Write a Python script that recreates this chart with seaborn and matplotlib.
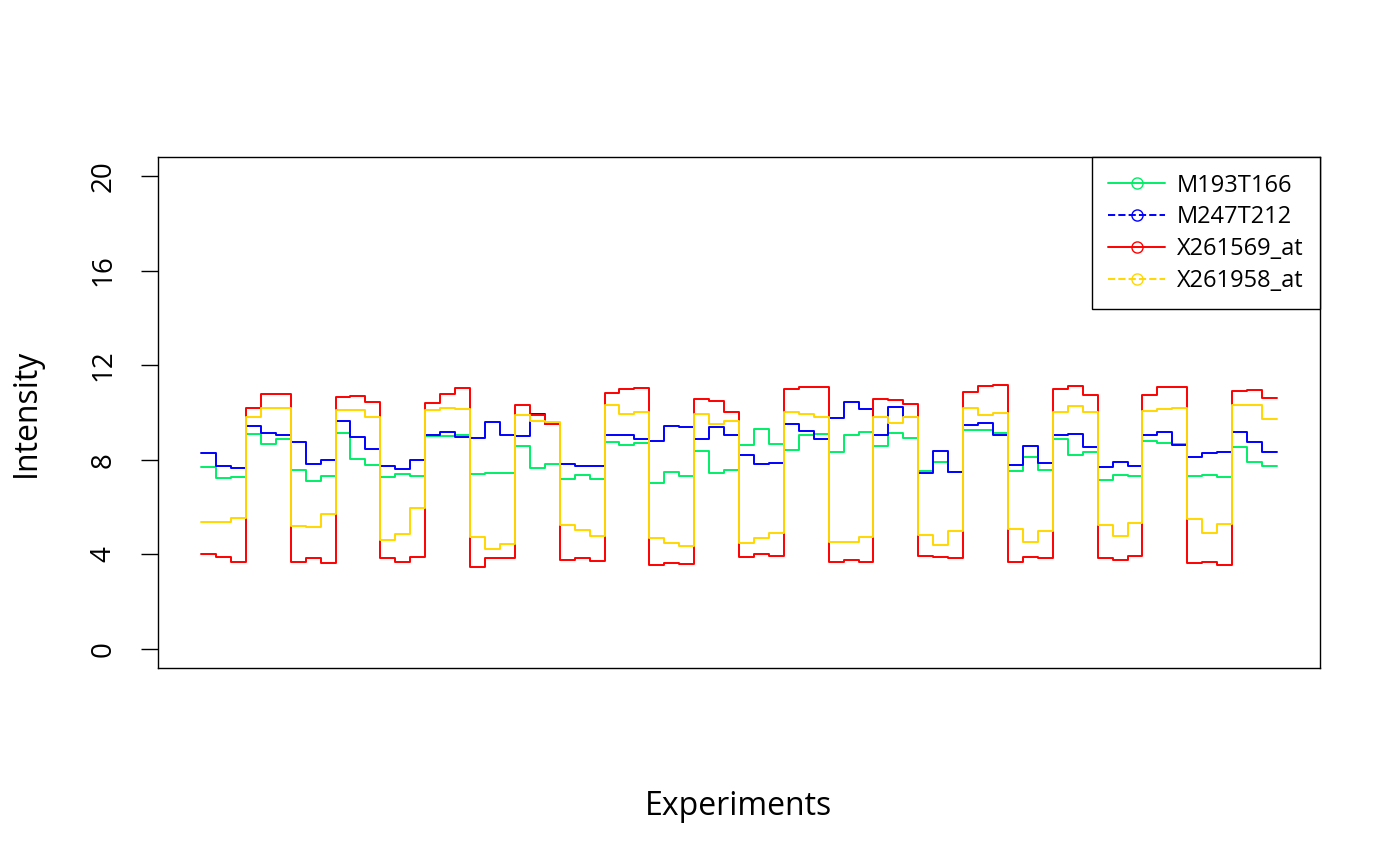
import numpy as np
import pandas as pd
import matplotlib
matplotlib.use("Agg")
import matplotlib.pyplot as plt
import seaborn as sns
from matplotlib.lines import Line2D

# probe names as in the legend
probes = ["M193T166", "M247T212", "X261569_at", "X261958_at"]
colors = ["#00EE66", "#0000FF", "#FF0000", "#FFD700"]
legend_styles = ["-", "--", "-", "--"]

# intensity per experiment (73 experiments)
m193 = [7.71, 7.24, 7.27, 9.10, 8.68, 8.89, 7.55, 7.10, 7.30,
        9.13, 8.02, 7.78, 7.26, 7.38, 7.30, 9.00, 9.01, 9.03,
        7.38, 7.45, 7.45, 8.58, 7.65, 7.82, 7.20, 7.36, 7.19,
        8.76, 8.61, 8.72, 7.03, 7.50, 7.31, 8.38, 7.43, 7.58,
        8.61, 9.32, 8.65, 8.41, 9.07, 9.11, 8.35, 9.06, 9.16,
        8.59, 9.13, 8.92, 7.54, 7.92, 7.50, 9.25, 9.28, 9.13,
        7.54, 8.12, 7.57, 8.87, 8.19, 8.35, 7.13, 7.36, 7.30,
        8.78, 8.69, 8.65, 7.31, 7.37, 7.26, 8.55, 7.89, 7.73, 7.73]

m247 = [8.28, 7.73, 7.64, 9.45, 9.13, 9.03, 8.75, 7.83, 7.99,
        9.63, 8.96, 8.45, 7.72, 7.61, 8.00, 9.04, 9.16, 8.97,
        8.93, 9.58, 9.03, 9.02, 9.92, 9.52, 7.82, 7.73, 7.75,
        9.03, 9.07, 8.86, 8.80, 9.42, 9.40, 8.87, 9.38, 9.07,
        8.21, 7.83, 7.85, 9.51, 9.20, 8.90, 9.76, 10.44, 10.14,
        9.07, 10.24, 9.80, 7.44, 8.37, 7.50, 9.48, 9.54, 9.07,
        7.76, 8.59, 7.88, 9.07, 9.11, 8.54, 7.71, 7.90, 7.73,
        9.07, 9.17, 8.62, 8.12, 8.28, 8.33, 9.16, 8.75, 8.33, 8.33]

x261569 = [4.02, 3.90, 3.66, 10.21, 10.80, 10.79, 3.69, 3.84, 3.63,
           10.65, 10.69, 10.44, 3.87, 3.66, 3.91, 10.39, 10.77, 11.04,
           3.47, 3.85, 3.85, 10.31, 9.89, 9.51, 3.78, 3.85, 3.71,
           10.82, 11.00, 11.03, 3.57, 3.62, 3.60, 10.55, 10.48, 10.01,
           3.90, 4.00, 3.94, 11.00, 11.07, 11.06, 3.66, 3.77, 3.68,
           10.58, 10.52, 10.34, 3.95, 3.88, 3.83, 10.86, 11.11, 11.15,
           3.66, 3.88, 3.87, 11.01, 11.14, 10.72, 3.85, 3.77, 3.94,
           10.72, 11.08, 11.08, 3.62, 3.68, 3.56, 10.90, 10.96, 10.63, 10.63]

x261958 = [5.36, 5.38, 5.54, 9.82, 10.21, 10.18, 5.19, 5.15, 5.70,
           10.11, 10.11, 9.80, 4.63, 4.85, 5.96, 10.11, 10.18, 10.14,
           4.73, 4.25, 4.43, 9.90, 9.63, 9.58, 5.23, 5.05, 4.80,
           10.30, 9.92, 10.01, 4.71, 4.50, 4.36, 9.94, 9.51, 9.62,
           4.49, 4.68, 4.91, 10.04, 9.92, 9.82, 4.54, 4.54, 4.74,
           9.82, 9.55, 9.80, 4.81, 4.40, 4.99, 10.17, 9.89, 9.97,
           5.09, 4.53, 5.01, 10.03, 10.27, 10.01, 5.26, 4.77, 5.33,
           10.08, 10.13, 10.17, 5.50, 4.92, 5.27, 10.30, 10.30, 9.73, 9.73]

y_ticks = [0, 4, 8, 12, 16, 20]

series = [m193, m247, x261569, x261958]
experiments = np.arange(1, len(m193) + 1)

df = pd.concat([pd.DataFrame({"Experiment": experiments, "Intensity": vals, "Probe": name})
                for name, vals in zip(probes, series)], ignore_index=True)

sns.set_style("white")
plt.rcParams["font.family"] = ["Open Sans", "DejaVu Sans"]
plt.rcParams["text.color"] = "black"
plt.rcParams["axes.labelcolor"] = "black"
plt.rcParams["ytick.color"] = "black"

fig = plt.figure(figsize=(14, 8.65), dpi=100)
ax = fig.add_axes([158 / 1400, 1 - 668 / 865, (1320 - 158) / 1400, (668 - 157) / 865])

for name, col in zip(probes, colors):
    sub = df[df["Probe"] == name]
    sns.lineplot(data=sub, x="Experiment", y="Intensity", color=col, linewidth=1.4,
                 drawstyle="steps-post", ax=ax, legend=False, errorbar=None)

n = len(experiments)
pad = (n - 1) * 0.04
ax.set_xlim(1 - pad, n + pad)
ax.set_ylim(-0.8, 20.8)
ax.set_xticks([])
ax.set_yticks(y_ticks)
ax.set_yticklabels([str(t) for t in y_ticks], rotation=90, va="center")
ax.tick_params(axis="y", direction="out", length=12, width=1, color="black",
               labelsize=20, labelcolor="black", pad=17, left=True)
for s in ax.spines.values():
    s.set_color("black")
    s.set_linewidth(1)

ax.set_xlabel("Experiments", fontsize=23, labelpad=88)
ax.set_ylabel("Intensity", fontsize=23, labelpad=34)

handles = [Line2D([0], [0], color=c, linestyle=ls, linewidth=1.4, marker="o",
                  markerfacecolor="none", markeredgecolor=c, markersize=8)
           for c, ls in zip(colors, legend_styles)]
leg = ax.legend(handles, probes, loc="upper right", fontsize=17, frameon=True,
                fancybox=False, edgecolor="black", framealpha=1, borderaxespad=0,
                handlelength=2.4, handletextpad=0.5, labelspacing=0.33,
                borderpad=0.7)
leg.get_frame().set_linewidth(1)

fig.savefig("out.png", dpi=100)
